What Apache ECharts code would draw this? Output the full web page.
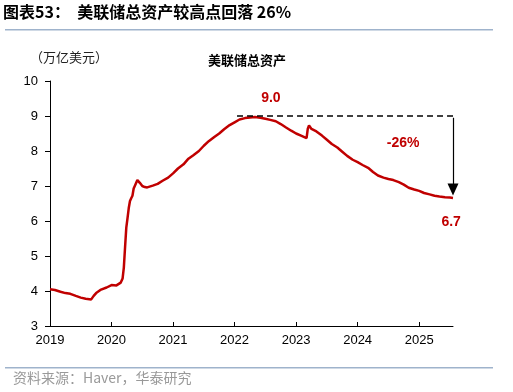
<!DOCTYPE html>
<html>
<head>
<meta charset="utf-8">
<script src="https://cdn.jsdelivr.net/npm/echarts@6/dist/echarts.min.js"></script>
<style>
html,body{margin:0;padding:0;background:#fff;}
#c{width:513px;height:392px;}
</style>
</head>
<body>
<div id="c"></div>
<script>
// Dates as decimal years, values in trillion USD
const dates = [
  2019.00,2019.08,2019.17,2019.25,2019.33,2019.42,2019.50,2019.58,2019.67,2019.71,2019.75,2019.83,2019.92,
  2020.00,2020.08,2020.15,2020.18,2020.20,2020.22,2020.24,2020.26,2020.28,2020.30,2020.32,2020.34,2020.36,2020.38,2020.40,2020.42,2020.44,2020.46,2020.50,2020.54,2020.58,2020.67,2020.75,2020.83,2020.92,
  2021.00,2021.08,2021.17,2021.25,2021.33,2021.42,2021.50,2021.58,2021.67,2021.75,2021.83,2021.92,
  2022.00,2022.08,2022.17,2022.25,2022.33,2022.42,2022.50,2022.58,2022.67,2022.75,2022.83,2022.92,
  2023.00,2023.08,2023.17,2023.19,2023.21,2023.23,2023.25,2023.33,2023.42,2023.50,2023.58,2023.67,2023.75,2023.83,2023.92,
  2024.00,2024.08,2024.17,2024.25,2024.33,2024.42,2024.50,2024.58,2024.67,2024.75,2024.83,2024.92,
  2025.00,2025.08,2025.17,2025.25,2025.33,2025.42,2025.50,2025.55
];
const values = [
  4.05,4.03,3.98,3.94,3.92,3.86,3.81,3.78,3.76,3.86,3.94,4.04,4.10,
  4.17,4.16,4.24,4.36,4.67,5.25,5.81,6.08,6.37,6.57,6.65,6.72,6.93,7.01,7.04,7.17,7.14,7.09,7.00,6.97,6.96,7.01,7.06,7.15,7.24,
  7.36,7.50,7.62,7.78,7.88,8.00,8.15,8.28,8.40,8.50,8.62,8.74,
  8.82,8.90,8.94,8.96,8.97,8.95,8.92,8.89,8.85,8.77,8.68,8.58,
  8.50,8.44,8.37,8.64,8.73,8.71,8.63,8.56,8.44,8.32,8.20,8.10,7.98,7.86,7.75,
  7.68,7.60,7.52,7.40,7.30,7.24,7.20,7.17,7.11,7.04,6.95,6.90,
  6.86,6.80,6.76,6.72,6.70,6.68,6.67,6.66
];
const yTicks = [3,4,5,6,7,8,9,10];
const xTicks = [2019,2020,2021,2022,2023,2024,2025];
const peakValue = 9.0, endValue = 6.7, dropLabel = '-26%';
const peakX = 2022.04, endX = 2025.55;

const seriesData = dates.map((d,i)=>[d, values[i]]);

const chart = echarts.init(document.getElementById('c'));
const latin = 'Liberation Sans, Arial, sans-serif';
chart.setOption({
  animation:false,
  grid:{left:50,right:60,top:81,bottom:66},
  xAxis:{
    type:'value',min:2019,max:endX,
    axisLine:{show:true,lineStyle:{color:'#000',width:1}},
    axisTick:{show:true,inside:true,length:4,customValues:xTicks,lineStyle:{color:'#000'}},
    axisLabel:{customValues:xTicks,color:'#000',fontSize:13,fontFamily:latin,margin:8,formatter:v=>String(Math.round(v))},
    splitLine:{show:false}
  },
  yAxis:{
    type:'value',min:3,max:10,interval:1,
    axisLine:{show:true,lineStyle:{color:'#000',width:1}},
    axisTick:{show:true,length:5,lineStyle:{color:'#000'}},
    axisLabel:{color:'#000',fontSize:13,fontFamily:latin,margin:12},
    splitLine:{show:false}
  },
  graphic:[
    {type:'text',left:3,top:4,style:{text:'图表53：  美联储总资产较高点回落 26%',font:'bold 16px "Noto Sans CJK SC", sans-serif',fill:'#000'}},
    {type:'rect',shape:{x:5,y:29,width:488,height:1.5},style:{fill:'#9fb3cc'}},
    {type:'text',left:30,top:51,style:{text:'（万亿美元）',font:'13px "Noto Sans CJK SC", sans-serif',fill:'#222'}},
    {type:'text',left:208,top:54,style:{text:'美联储总资产',font:'bold 13px "Noto Sans CJK SC", sans-serif',fill:'#000'}},
    {type:'rect',shape:{x:5,y:367,width:488,height:1.5},style:{fill:'#9fb3cc'}},
    {type:'text',left:13,top:371,style:{text:'资料来源：Haver，华泰研究',font:'14px "Noto Sans CJK SC", sans-serif',fill:'#999'}}
  ],
  series:[{
    type:'line',data:seriesData,showSymbol:false,symbol:'none',
    lineStyle:{color:'#c00000',width:2.5},
    markLine:{
      silent:true,animation:false,
      label:{show:false},
      data:[
        [{coord:[peakX,peakValue],symbol:'none',lineStyle:{type:[6,4],color:'#000',width:1.5}},{coord:[endX,peakValue],symbol:'none'}],
        [{coord:[endX,8.95],symbol:'none',lineStyle:{type:'solid',color:'#000',width:1.2}},{coord:[endX,6.9],symbol:'triangle',symbolSize:[11,12]}]
      ]
    },
    markPoint:{
      symbol:'circle',symbolSize:0,silent:true,
      label:{show:true,position:'inside',fontFamily:latin,fontWeight:'bold',fontSize:14,color:'#c00000'},
      data:[
        {coord:[2022.59,9.5],label:{formatter:peakValue.toFixed(1)}},
        {coord:[2024.74,8.22],label:{formatter:dropLabel}},
        {coord:[2025.52,5.97],label:{formatter:endValue.toFixed(1)}}
      ]
    }
  }]
});
</script>
</body>
</html>
